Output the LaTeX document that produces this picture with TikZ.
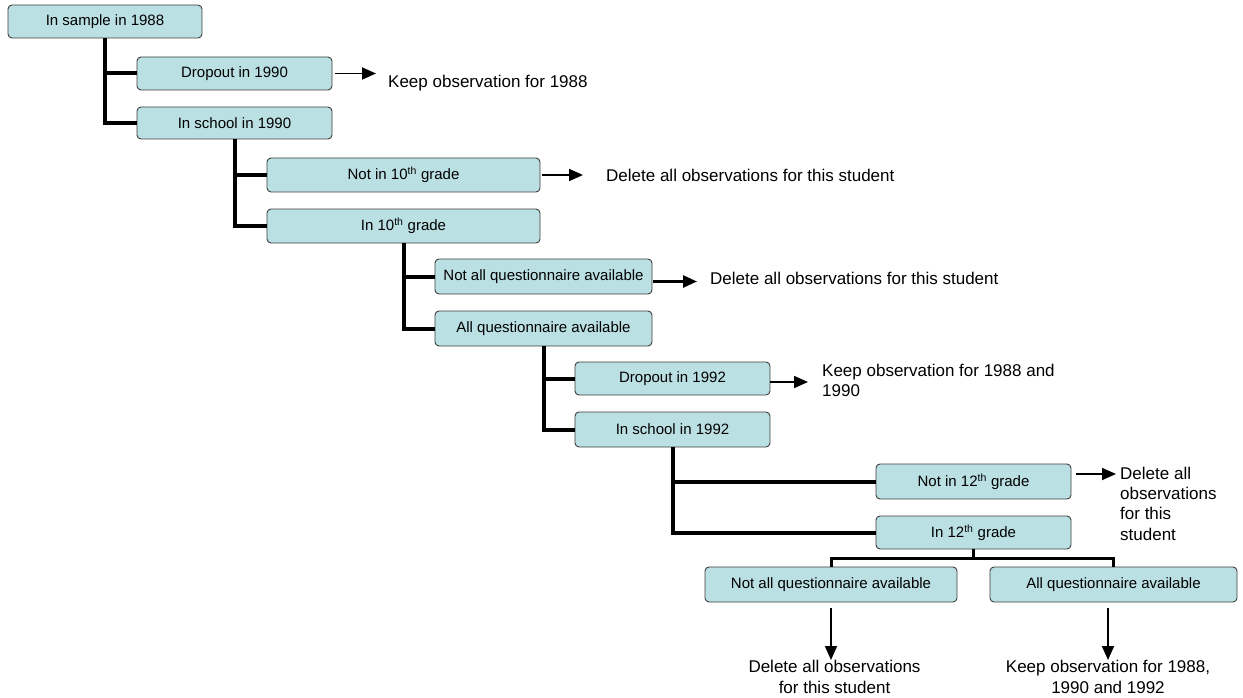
\documentclass[tikz,border=0pt]{standalone}
\usepackage{fontspec}
\setmainfont{Liberation Sans}
\usepackage{xcolor}
\usepackage{tikz}
\usetikzlibrary{arrows.meta}
\definecolor{boxfill}{RGB}{187,224,227}
\definecolor{boxline}{RGB}{60,60,60}

\begin{document}
\begin{tikzpicture}[x=1pt,y=-1pt,
  box/.style={draw=boxline,line width=0.9pt,fill=boxfill,rounded corners=4pt,
    inner sep=0pt,font=\fontsize{15}{18}\selectfont},
  note/.style={inner sep=0pt,font=\fontsize{17}{20.3}\selectfont},
  trunk/.style={line width=4pt},
  fork/.style={line width=3pt},
  outarrow/.style={line width=1.8pt,-{Triangle[length=14pt,width=12pt]}}]
\useasboundingbox (0,0) rectangle (1243,698);
%%
\node[box,minimum width=194pt,minimum height=33pt] (s88) at (105,21.5) {In sample in 1988};
\node[box,minimum width=195pt,minimum height=33pt] (d90) at (234.5,73.5) {Dropout in 1990};
\node[box,minimum width=195pt,minimum height=32pt] (i90) at (234.5,123) {In school in 1990};
\node[note,anchor=west] (k88) at (388,83) {Keep observation for 1988};
\draw[trunk] (s88.south) |- (d90.west);
\draw[trunk] (s88.south) |- (i90.west);
\draw[outarrow,shorten <=3pt,shorten >=12pt] (d90.east) -- (d90.east -| k88.west);
%%
\node[box,minimum width=273pt,minimum height=34pt] (n10) at (403.5,175) {Not in 10\textsuperscript{th} grade};
\node[box,minimum width=273pt,minimum height=34pt] (g10) at (403.5,226) {In 10\textsuperscript{th} grade};
\node[note,anchor=west] (del1) at (606,175) {Delete all observations for this student};
\draw[trunk] (i90.south) |- (n10.west);
\draw[trunk] (i90.south) |- (g10.west);
\draw[outarrow,shorten <=2pt,shorten >=23pt] (n10.east) -- (n10.east -| del1.west);
%%
\node[box,minimum width=217pt,minimum height=35pt] (nq1) at (543.5,276.5) {Not all questionnaire available};
\node[box,minimum width=217pt,minimum height=35pt] (aq1) at (543.5,328.5) {All questionnaire available};
\node[note,anchor=west] (del2) at (710,278) {Delete all observations for this student};
\draw[trunk] (g10.south) |- (nq1.west);
\draw[trunk] (g10.south) |- (aq1.west);
\draw[outarrow,line width=2.6pt,shorten <=1pt,shorten >=13pt]
  ([yshift=-5pt]nq1.east) -- ([yshift=-5pt]nq1.east -| del2.west);
%%
\node[box,minimum width=195pt,minimum height=33pt] (d92) at (672.5,378.5) {Dropout in 1992};
\node[box,minimum width=195pt,minimum height=35pt] (i92) at (672.5,429.5) {In school in 1992};
\node[note,anchor=west,align=left] (k90) at (822,380.5) {Keep observation for 1988 and\\1990};
\draw[trunk] (aq1.south) |- (d92.west);
\draw[trunk] (aq1.south) |- (i92.west);
\draw[outarrow,shorten >=14pt] ([yshift=-3.5pt]d92.east) -- ([yshift=-3.5pt]d92.east -| k90.west);
%%
\node[box,minimum width=195pt,minimum height=35pt] (n12) at (973.5,481.5) {Not in 12\textsuperscript{th} grade};
\node[box,minimum width=195pt,minimum height=33pt] (g12) at (973.5,532.5) {In 12\textsuperscript{th} grade};
\node[note,anchor=west,align=left] (del3) at (1120,503.5) {Delete all\\observations\\for this\\student};
\draw[trunk] (i92.south) |- (n12.west);
\draw[trunk] (i92.south) |- (g12.west);
\draw[outarrow,shorten <=5pt,shorten >=4pt] ([yshift=7.5pt]n12.east) -- ([yshift=7.5pt]n12.east -| del3.west);
%%
\node[box,minimum width=252pt,minimum height=35pt] (nq2) at (831,584.5) {Not all questionnaire available};
\node[box,minimum width=247pt,minimum height=35pt] (aq2) at (1113.5,584.5) {All questionnaire available};
\node[note,anchor=north,align=center,font=\fontsize{17}{21}\selectfont] (del4) at (834.5,660) {Delete all observations\\for this student};
\node[note,anchor=north,align=center,font=\fontsize{17}{21}\selectfont] (k92) at (1108,660) {Keep observation for 1988,\\1990 and 1992};
\draw[fork] (g12.south) -- ([yshift=-9pt]g12.south) -| (nq2.north);
\draw[fork] ([yshift=-9pt]g12.south) -| (aq2.north);
\draw[outarrow,shorten <=6pt] (nq2.south) -- (nq2.south |- del4.north);
\draw[outarrow,shorten <=6pt] (k92.north |- aq2.south) -- (k92.north);
\end{tikzpicture}
\end{document}
